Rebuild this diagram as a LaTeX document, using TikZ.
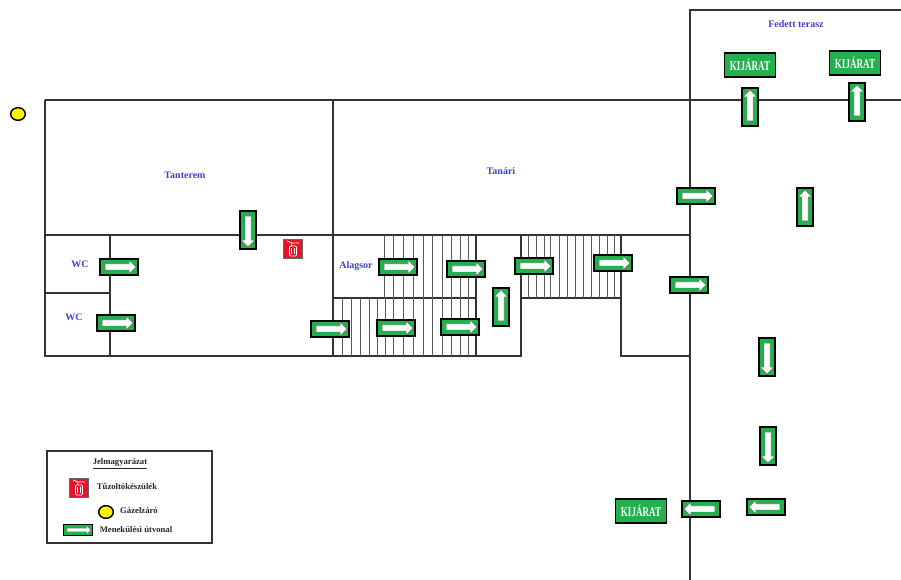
\documentclass[tikz,border=0pt]{standalone}
\usepackage{fontspec}
\setmainfont{Liberation Serif}
\usetikzlibrary{shapes.arrows,shapes.geometric}
\colorlet{wall edge}{black!80}
\colorlet{stair edge}{black!65}
\definecolor{sign area}{RGB}{34,177,76}
\definecolor{room text}{RGB}{64,64,208}
\definecolor{fire area}{RGB}{230,20,40}
\def\exitword{\scalebox{.68}[1]{KIJÁRAT}}
\tikzset{wall/.style={draw=wall edge, line width=1pt},
	stair/.style={draw=stair edge, line width=.75pt},
	room/.style={text=room text, font=\bfseries\fontsize{7.5}{9}\selectfont},
	legendtext/.style={text=black!85, font=\bfseries\fontsize{6.5}{8}\selectfont},
	signbox/.style={fill=sign area, draw=black, line width=1.4pt, inner sep=0pt},
	signh/.style={signbox, minimum width=28pt, minimum height=11.5pt},
	signv/.style={signbox, minimum width=11.5pt, minimum height=28pt},
	pointer/.style={single arrow, fill=white, draw=black!60, line width=.3pt, inner sep=2.1pt,
		single arrow head extend=2.7pt, single arrow head indent=0pt, minimum height=23pt},
	exitsign/.style={signbox, line width=1.1pt, minimum width=38pt, minimum height=18pt, text=white,
		font=\bfseries\fontsize{10}{12}\selectfont},
	gasvalve/.style={ellipse, fill=yellow, draw=black, line width=1.1pt, minimum width=11pt, minimum height=9.5pt, inner sep=0pt},
	firebox/.style={fill=fire area, draw=black!60, line width=.4pt, minimum size=14pt, inner sep=0pt},
	extinguisher/.pic={
		\node[firebox] (-box) at (0,0) {};
		\draw[white, line width=.5pt, rounded corners=.8pt] (-3.5,-3) rectangle (3.5,7);
		\draw[white, line width=.4pt] (-1.5,-1) -- (-1.5,5) (1.5,-1) -- (1.5,5);
		\draw[white, line width=.5pt] (-1.5,-3) -- (-1,-6) -- (6,-6) (-1,-6) -- (-6,-8);
	}}
\begin{document}
\begin{tikzpicture}[x=.75pt, y=-.75pt]
	\useasboundingbox (0,0) rectangle (901,580);
	% walls
	\draw[wall] (45,100) -- (901,100);
	\draw[wall, line width=1.3pt] (45,100) -- (45,356) -- (110,356);
	\draw[wall] (110,356) -- (476,356);
	\draw[wall] (45,235) -- (477,235);
	\draw[wall] (45,293) -- (110,293);
	\draw[wall] (110,235) -- (110,356);
	\draw[wall] (333,100) -- (333,356);
	\draw[wall] (333,298) -- (476,298);
	\draw[wall] (476,235) rectangle (521,356);
	\draw[wall] (521,235) -- (690,235);
	\draw[wall] (521,298) -- (621,298);
	\draw[wall] (621,235) -- (621,356) -- (690,356);
	\draw[wall] (690,580) -- (690,10) -- (901,10);
	% stairs
	\foreach \x in {384.5,393.5,403,413,423,432,442,451,460,468}
		\draw[stair] (\x,235) -- (\x,298);
	\foreach \x in {342,351,360,369,377,385,393,403,413,423,432,442,451,460,468}
		\draw[stair] (\x,298) -- (\x,356);
	\foreach \x in {528,536,544,550,559,567,575,583,591,599,607,614}
		\draw[stair] (\x,235) -- (\x,298);
	% room names
	\node[room] (tanterem) at (185,175) {Tanterem};
	\node[room] (tanari) at (501,171) {Tanári};
	\node[room] (alagsor) at (356,266) {Alagsor};
	\node[room] (wc1) at (80,264) {WC};
	\node[room] (wc2) at (74,317) {WC};
	\node[room] (terasz) at (796,24) {Fedett terasz};
	% escape route
	\foreach \x/\y [count=\i] in {119/267,116/323,398/267,466/269,534/266,613/263,330/329,396/328,460/327,696/196,689/285}{
		\node[signh] (right\i) at (\x,\y) {};
		\node[pointer] at (right\i) {};
	}
	\foreach \x/\y [count=\i] in {701/509,766/507}{
		\node[signh] (left\i) at (\x,\y) {};
		\node[pointer, rotate=180] at (left\i) {};
	}
	\foreach \x/\y [count=\i] in {248/230,767/357,768/446}{
		\node[signv] (down\i) at (\x,\y) {};
		\node[pointer, rotate=-90] at (down\i) {};
	}
	\foreach \x/\y [count=\i] in {501/307,750/107,857/102,805/207}{
		\node[signv] (up\i) at (\x,\y) {};
		\node[pointer, rotate=90] at (up\i) {};
	}
	% exits
	\node[exitsign] (exit1) at (750,65) {\exitword};
	\node[exitsign] (exit2) at (855,63) {\exitword};
	\node[exitsign] (exit3) at (641,511) {\exitword};
	% equipment
	\node[gasvalve] (gas) at (18,114) {};
	\pic (fire) at (293,249) {extinguisher};
	% legend
	\draw[wall] (47,451) rectangle (212,543);
	\node[legendtext] (legendtitle) at (120,464) {\underline{Jelmagyarázat}};
	\pic (legendfire) at (79,488) {extinguisher};
	\node[legendtext] (legendfiretext) at (127,487) {Tűzoltókészülék};
	\node[gasvalve] (legendgas) at (106,512) {};
	\node[legendtext] (legendgastext) at (139,511) {Gázelzáró};
	\node[signbox, line width=.3pt, minimum width=22pt, minimum height=8pt] (legendsign) at (78,530) {};
	\node[pointer, minimum height=18pt, inner sep=1.2pt, single arrow head extend=1.8pt] at (legendsign) {};
	\node[legendtext] (legendsigntext) at (136,530) {Menekülési útvonal};
\end{tikzpicture}
\end{document}
